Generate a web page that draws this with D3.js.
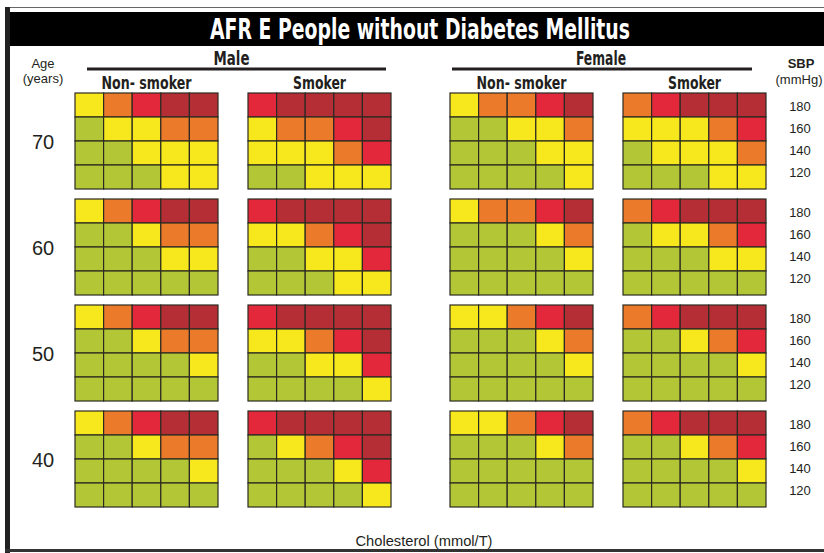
<!DOCTYPE html>
<meta charset="utf-8">
<style>
  body { margin: 0; background: #fff; }
  svg text { font-family: "Liberation Sans", Arial, sans-serif; }
  .cond { font-family: "Liberation Sans Narrow", "DejaVu Sans Condensed", "Liberation Sans", sans-serif; font-weight: bold; }
</style>
<svg width="824" height="553"></svg>
<script src="https://d3js.org/d3.v7.min.js"></script>
<script>
// ---- data ----
var title = "AFR E People without Diabetes Mellitus";
var ages = [70, 60, 50, 40];
var sbp = [180, 160, 140, 120];
var cholesterol = [4, 5, 6, 7, 8];
var sexes = ["Male", "Female"];
var smoking = ["Non- smoker", "Smoker"];
// risk level: 0 <10%, 1 10-20%, 2 20-30%, 3 30-40%, 4 >=40%
var levelColors = ["#b3c736", "#f6e81c", "#ec7a2b", "#e2283a", "#b52e36"];

// each age: rows SBP 180..120, columns cholesterol 4..8
var maleNonSmoker = {
  70: ["12344", "01122", "00111", "00011"],
  60: ["12344", "00122", "00011", "00000"],
  50: ["12344", "00122", "00001", "00000"],
  40: ["12344", "00122", "00001", "00000"]
};
var maleSmoker = {
  70: ["34444", "12234", "11123", "00111"],
  60: ["34444", "11234", "00113", "00011"],
  50: ["34444", "11234", "00113", "00001"],
  40: ["34444", "01234", "00013", "00001"]
};
var femaleNonSmoker = {
  70: ["12234", "00112", "00011", "00001"],
  60: ["12234", "00012", "00001", "00000"],
  50: ["11234", "00012", "00001", "00000"],
  40: ["11234", "00012", "00000", "00000"]
};
var femaleSmoker = {
  70: ["23444", "11123", "01112", "00011"],
  60: ["23444", "01123", "00011", "00000"],
  50: ["23444", "00123", "00001", "00000"],
  40: ["23444", "00123", "00001", "00000"]
};

var panels = [
  {sex: "Male", smoke: "Non- smoker", risk: maleNonSmoker},
  {sex: "Male", smoke: "Smoker", risk: maleSmoker},
  {sex: "Female", smoke: "Non- smoker", risk: femaleNonSmoker},
  {sex: "Female", smoke: "Smoker", risk: femaleSmoker}
];

// ---- layout ----
var svg = d3.select("svg");
var sexX = d3.scaleOrdinal().domain(sexes).range([75, 450]);
var smokeX = d3.scaleOrdinal().domain(smoking).range([0, 173]);
var ageY = d3.scaleBand().domain(ages).range([93, 507]).paddingInner(10 / 106);
var colX = d3.scaleBand().domain(cholesterol).range([0, 143]);
var rowY = d3.scaleBand().domain(sbp).range([0, ageY.bandwidth()]);

// frame
svg.append("rect").attr("x", 5).attr("y", 7).attr("width", 830).attr("height", 1).attr("fill", "#666");
svg.append("rect").attr("x", 5).attr("y", 12).attr("width", 830).attr("height", 34).attr("fill", "#000");
svg.append("rect").attr("x", 5).attr("y", 7).attr("width", 5).attr("height", 546).attr("fill", "#222");
svg.append("rect").attr("x", 5).attr("y", 549).attr("width", 830).attr("height", 3).attr("fill", "#333");

svg.append("text").attr("class", "cond")
  .attr("x", 420).attr("y", 39).attr("text-anchor", "middle")
  .attr("font-size", 29).attr("fill", "#fff")
  .attr("textLength", 420).attr("lengthAdjust", "spacingAndGlyphs")
  .text(title);

// headers
var sexLines = {Male: [87, 386], Female: [452, 752]};
var sexWidths = {Male: 36, Female: 50};
sexes.forEach(function(s) {
  var l = sexLines[s];
  svg.append("rect").attr("x", l[0]).attr("y", 67.5).attr("width", l[1] - l[0]).attr("height", 3).attr("fill", "#231f20");
  svg.append("text").attr("class", "cond")
    .attr("x", (l[0] + l[1]) / 2 + (s == "Male" ? -5 : -1)).attr("y", 65).attr("text-anchor", "middle")
    .attr("font-size", 19).attr("fill", "#231f20")
    .attr("textLength", sexWidths[s]).attr("lengthAdjust", "spacingAndGlyphs")
    .text(s);
  smoking.forEach(function(k) {
    svg.append("text").attr("class", "cond")
      .attr("x", sexX(s) + smokeX(k) + colX.range()[1] / 2)
      .attr("y", 89).attr("text-anchor", "middle")
      .attr("font-size", 18).attr("fill", "#231f20")
      .attr("textLength", k == "Smoker" ? 53 : 90).attr("lengthAdjust", "spacingAndGlyphs")
      .text(k);
  });
});

svg.append("text").attr("x", 43).attr("y", 68).attr("text-anchor", "middle").attr("font-size", 13).attr("fill", "#231f20").text("Age");
svg.append("text").attr("x", 43).attr("y", 83).attr("text-anchor", "middle").attr("font-size", 13).attr("fill", "#231f20").text("(years)");
svg.append("text").attr("x", 801).attr("y", 68).attr("text-anchor", "middle").attr("font-size", 13).attr("font-weight", "bold").attr("fill", "#231f20").text("SBP");
svg.append("text").attr("x", 799).attr("y", 84).attr("text-anchor", "middle").attr("font-size", 13).attr("fill", "#231f20").text("(mmHg)");

// grids
var ageG = svg.selectAll("g.age").data(ages).enter().append("g")
  .attr("class", "age")
  .attr("transform", function(a) { return "translate(0," + ageY(a) + ")"; });

ageG.append("text")
  .attr("x", 43).attr("y", ageY.bandwidth() / 2 + 8)
  .attr("text-anchor", "middle").attr("font-size", 20).attr("fill", "#231f20")
  .text(function(a) { return a; });

ageG.each(function(a) {
  var g = d3.select(this);
  panels.forEach(function(p) {
    var cells = [];
    sbp.forEach(function(s, i) {
      cholesterol.forEach(function(c, j) {
        cells.push({sbp: s, chol: c, level: +p.risk[a][i][j]});
      });
    });
    var pg = g.append("g").attr("transform", "translate(" + (sexX(p.sex) + smokeX(p.smoke)) + ",0)");
    pg.selectAll("rect").data(cells).enter().append("rect")
      .attr("x", function(d) { return colX(d.chol); })
      .attr("y", function(d) { return rowY(d.sbp); })
      .attr("width", colX.bandwidth())
      .attr("height", rowY.bandwidth())
      .attr("fill", function(d) { return levelColors[d.level]; })
      .attr("stroke", "#2b2a22")
      .attr("stroke-width", 1.2);
  });
  // SBP labels
  g.selectAll("text.sbp").data(sbp).enter().append("text")
    .attr("class", "sbp")
    .attr("x", 800).attr("text-anchor", "middle")
    .attr("y", function(s, i) { return 18 + i * 22; })
    .attr("font-size", 13).attr("fill", "#231f20")
    .text(function(s) { return s; });
});

svg.append("text").attr("x", 424).attr("y", 546).attr("text-anchor", "middle")
  .attr("font-size", 14).attr("fill", "#231f20")
  .attr("textLength", 137).attr("lengthAdjust", "spacingAndGlyphs")
  .text("Cholesterol (mmol/T)");
</script>
